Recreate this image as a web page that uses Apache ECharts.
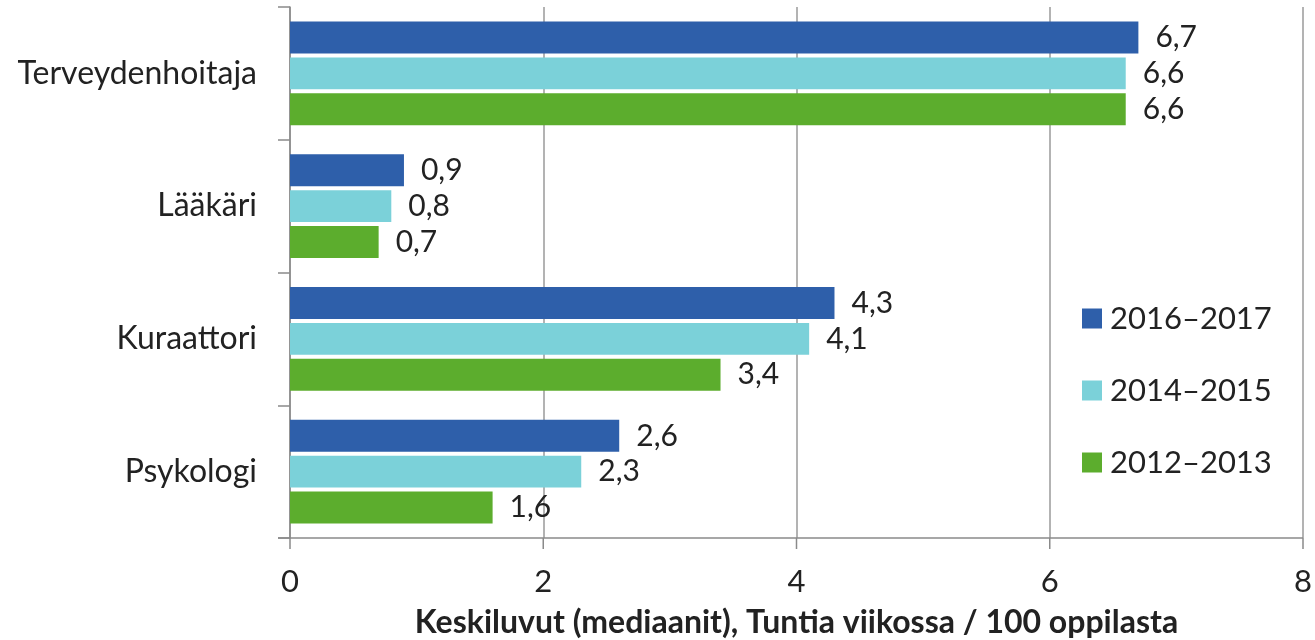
<!DOCTYPE html>
<html><head><meta charset="utf-8">
<script src="https://cdn.jsdelivr.net/npm/echarts@6/dist/echarts.min.js"></script>
<style>html,body{margin:0;padding:0;background:#fff}#c{width:1315px;height:640px}</style>
</head><body><div id="c"></div>
<script>
const categories = ['Terveydenhoitaja', 'Lääkäri', 'Kuraattori', 'Psykologi'];
const seriesNames = ['2016–2017', '2014–2015', '2012–2013'];
const s2016 = [6.7, 0.9, 4.3, 2.6];
const s2014 = [6.6, 0.8, 4.1, 2.3];
const s2012 = [6.6, 0.7, 3.4, 1.6];
const xTicks = [0, 2, 4, 6, 8];
const axisTitle = 'Keskiluvut (mediaanit), Tuntia viikossa / 100 oppilasta';

const colors = ['#2E5FAA', '#7BD1D9', '#5CAD2D'];
const FONT = 'Lato, "Open Sans", sans-serif';
const chart = echarts.init(document.getElementById('c'));
const mk = (name, data, color) => ({
  name, type: 'bar', data,
  itemStyle: { color },
  barGap: '12%', barCategoryGap: '22%',
  label: { show: true, position: 'right', distance: 17, color: '#222', fontSize: 30, fontFamily: FONT,
    formatter: p => String(p.value).replace('.', ',') }
});
chart.setOption({
  animation: false,
  color: colors,
  grid: { left: 290, right: 12, top: 7, bottom: 102, containLabel: false, outerBoundsMode: 'none' },
  legend: {
    orient: 'vertical', left: 1077, top: 298, itemGap: 41,
    itemWidth: 20, itemHeight: 20, icon: 'rect',
    textStyle: { fontSize: 31, fontFamily: FONT, color: '#222', padding: [0, 0, 0, 3] },
    data: seriesNames
  },
  xAxis: {
    type: 'value', min: xTicks[0], max: xTicks[xTicks.length - 1], interval: 2,
    axisLine: { show: false },
    axisTick: { show: false },
    splitLine: { show: true, lineStyle: { color: '#9a9a9a', width: 1.5 } },
    axisLabel: { fontSize: 31, fontFamily: FONT, color: '#222', margin: 28 },
    name: axisTitle, nameLocation: 'middle', nameGap: 69,
    nameTextStyle: { fontSize: 32, fontWeight: 'bold', fontFamily: FONT, color: '#222' }
  },
  yAxis: {
    type: 'category', data: categories, inverse: true,
    axisLine: { show: true, lineStyle: { color: '#8a8a8a', width: 1.5 } },
    axisTick: { show: true, length: 12, lineStyle: { color: '#8a8a8a', width: 1.5 } },
    axisLabel: { fontSize: 32, fontFamily: FONT, color: '#222', margin: 33 }
  },
  graphic: [
    { type: 'line', z: 10, shape: { x1: 278, y1: 538, x2: 1303, y2: 538 }, style: { stroke: '#8a8a8a', lineWidth: 1.5 } },
    ...xTicks.map((t, i) => ({ type: 'line', z: 10, shape: { x1: 290 + i * (1013 / 4), y1: 538, x2: 290 + i * (1013 / 4), y2: 549 }, style: { stroke: '#8a8a8a', lineWidth: 1.5 } }))
  ],
  series: [mk(seriesNames[0], s2016, colors[0]), mk(seriesNames[1], s2014, colors[1]), mk(seriesNames[2], s2012, colors[2])]
});
</script></body></html>
